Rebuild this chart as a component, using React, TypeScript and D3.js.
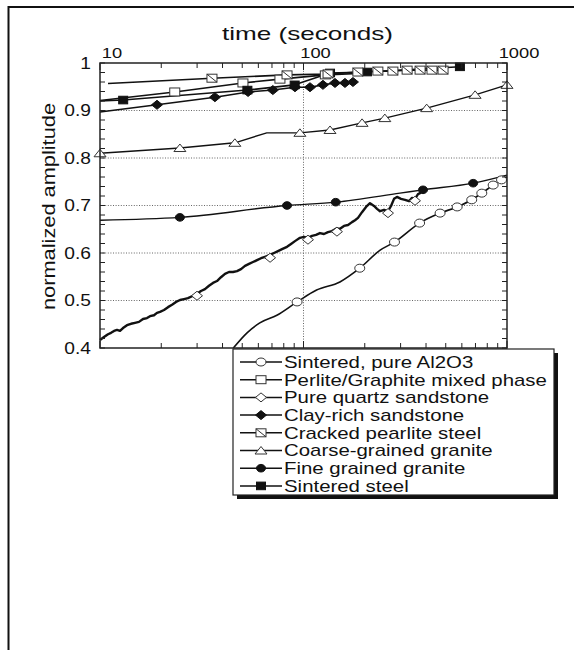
import React from 'react';
import * as d3 from 'd3';

// ---------- axes / ticks ----------
const xMajorTicks = [10, 100, 1000];
const xTickLabels = ['10', '100', '1000'];
const xMinorTicks = [20, 30, 40, 50, 60, 70, 80, 90, 200, 300, 400, 500, 600, 700, 800, 900];
const yMajorTicks = [0.4, 0.5, 0.6, 0.7, 0.8, 0.9, 1];
const yTickLabels = ['0.4', '0.5', '0.6', '0.7', '0.8', '0.9', '1'];
const yGridValues = [0.5, 0.6, 0.7, 0.8, 0.9];
const xGridValues = [100];

const legendLabels = [
  'Sintered, pure Al2O3',
  'Perlite/Graphite mixed phase',
  'Pure quartz sandstone',
  'Clay-rich sandstone',
  'Cracked pearlite steel',
  'Coarse-grained granite',
  'Fine grained granite',
  'Sintered steel',
];
const legendMarkers = ['circle', 'square', 'diamond', 'diamondFilled', 'squareCross', 'triangle', 'circleFilled', 'squareFilled'];

// ---------- series (time in seconds, normalized amplitude) ----------
const aluminaT = [45.2, 52.8, 61, 74, 93, 116, 151, 189, 238, 280, 372, 469, 569, 671, 752, 855, 940, 1000];
const aluminaV = [0.40, 0.432, 0.453, 0.469, 0.497, 0.522, 0.539, 0.568, 0.606, 0.623, 0.663, 0.684, 0.697, 0.712, 0.726, 0.743, 0.754, 0.76];
const aluminaMarkT = [93, 189, 280, 372, 469, 569, 671, 752, 855, 940];
const aluminaMarkV = [0.497, 0.568, 0.623, 0.663, 0.684, 0.697, 0.712, 0.726, 0.743, 0.754];

const perliteT = [10, 23.3, 50.4, 76.6, 128, 212];
const perliteV = [0.921, 0.939, 0.958, 0.966, 0.975, 0.979];
const perliteMarkT = [23.3, 50.4, 76.6, 128];
const perliteMarkV = [0.939, 0.958, 0.966, 0.975];

const quartzT = [10, 10.46, 10.95, 11.33, 11.72, 12.12, 12.54, 12.97, 13.57, 14.2, 14.86, 15.54, 16.27, 17.02, 17.61, 18.42, 19.06, 19.72, 20.63, 21.59, 22.59, 23.64, 24.73, 25.87, 27.06, 28.32, 29.97, 31.35, 32.8, 34.32, 35.91, 37.57, 39.31, 41.13, 43.04, 45.04, 47.12, 49.31, 51.59, 53.98, 56.47, 59.1, 61.84, 64.7, 68.5, 71.61, 74.93, 78.41, 82.97, 86.82, 90.81, 96.1, 100.6, 105.2, 110.1, 115.2, 120.5, 126.1, 131.9, 138, 144.4, 151.1, 158.1, 165.5, 173.1, 179.1, 185.3, 193.9, 202.9, 212.2, 222.1, 229.8, 237.7, 248.7, 260.2, 269.2, 278.5, 288.1, 301.4, 315.4, 330, 341.4, 353.1, 365.3, 373.7, 386.6];
const quartzV = [0.417, 0.423, 0.429, 0.432, 0.436, 0.438, 0.436, 0.442, 0.448, 0.451, 0.453, 0.455, 0.461, 0.463, 0.467, 0.469, 0.474, 0.476, 0.480, 0.486, 0.491, 0.497, 0.501, 0.503, 0.505, 0.509, 0.514, 0.520, 0.524, 0.531, 0.537, 0.541, 0.549, 0.556, 0.560, 0.560, 0.562, 0.566, 0.573, 0.577, 0.581, 0.585, 0.589, 0.592, 0.596, 0.600, 0.604, 0.608, 0.613, 0.619, 0.625, 0.632, 0.634, 0.632, 0.636, 0.638, 0.642, 0.640, 0.644, 0.646, 0.651, 0.651, 0.657, 0.659, 0.665, 0.669, 0.674, 0.686, 0.697, 0.705, 0.699, 0.693, 0.688, 0.691, 0.688, 0.699, 0.714, 0.718, 0.714, 0.712, 0.709, 0.716, 0.714, 0.724, 0.726, 0.733];
const quartzMarkT = [29.97, 68.5, 105.2, 146, 260.2, 353.1];
const quartzMarkV = [0.51, 0.59, 0.628, 0.645, 0.684, 0.71];

const clayT = [10, 19.06, 36.7, 53.4, 70.7, 90.8, 107.6, 124.6, 142.8, 159.9, 175];
const clayV = [0.897, 0.912, 0.928, 0.939, 0.943, 0.949, 0.949, 0.954, 0.958, 0.958, 0.960];
const clayMarkT = [19.06, 36.7, 53.4, 70.7, 90.8, 107.6, 124.6, 142.8, 159.9, 175];
const clayMarkV = [0.912, 0.928, 0.939, 0.943, 0.949, 0.949, 0.954, 0.958, 0.958, 0.960];

const crackedT = [10.95, 35.5, 83, 132, 185, 232, 275, 323, 374, 428, 485];
const crackedV = [0.957, 0.968, 0.975, 0.977, 0.981, 0.983, 0.983, 0.985, 0.985, 0.985, 0.985];
const crackedMarkT = [35.5, 83, 132, 185, 232, 275, 323, 374, 428, 485];
const crackedMarkV = [0.968, 0.975, 0.977, 0.981, 0.983, 0.983, 0.985, 0.985, 0.985, 0.985];

const coarseT = [10, 24.7, 46, 66, 96, 135, 194, 251, 403, 697, 1000];
const coarseV = [0.81, 0.821, 0.832, 0.853, 0.853, 0.859, 0.874, 0.884, 0.905, 0.933, 0.954];
const coarseMarkT = [10, 24.7, 46, 96, 135, 194, 251, 403, 697, 1000];
const coarseMarkV = [0.81, 0.821, 0.832, 0.853, 0.859, 0.874, 0.884, 0.905, 0.933, 0.954];

const fineT = [10, 24.7, 83, 144, 298, 386.6, 682, 1000];
const fineV = [0.669, 0.675, 0.70, 0.707, 0.726, 0.733, 0.747, 0.764];
const fineMarkT = [24.7, 83, 144, 386.6, 682];
const fineMarkV = [0.675, 0.70, 0.707, 0.733, 0.747];

const steelT = [10, 13, 53, 90.5, 135, 205, 587];
const steelV = [0.92, 0.922, 0.943, 0.954, 0.979, 0.981, 0.992];
const steelMarkT = [13, 53, 90.5, 135, 205, 587];
const steelMarkV = [0.922, 0.943, 0.954, 0.979, 0.981, 0.992];

// ---------- layout ----------
const W = 574;
const H = 650;
const X0 = 100, X1 = 507, Y0 = 63, Y1 = 348;
const FONT = "'Liberation Sans', Arial, Helvetica, sans-serif";
const INK = '#111';

const x = d3.scaleLog().domain([10, 1000]).range([X0, X1]);
const y = d3.scaleLinear().domain([0.4, 1]).range([Y1, Y0]);

function Marker({ kind, cx, cy }: { kind: string; cx: number; cy: number }) {
  const open = { fill: '#fff', stroke: '#333', strokeWidth: 1 };
  const filled = { fill: '#111', stroke: '#111', strokeWidth: 1 };
  switch (kind) {
    case 'circle':
      return <ellipse cx={cx} cy={cy} rx={5} ry={4} {...open} />;
    case 'circleFilled':
      return <ellipse cx={cx} cy={cy} rx={4.5} ry={3.8} {...filled} />;
    case 'square':
      return <rect x={cx - 5} y={cy - 4} width={10} height={8} {...open} />;
    case 'squareFilled':
      return <rect x={cx - 4.5} y={cy - 3.8} width={9} height={7.6} {...filled} />;
    case 'squareCross':
      return (
        <g>
          <rect x={cx - 5} y={cy - 4} width={10} height={8} {...open} />
          <line x1={cx - 5} y1={cy - 4} x2={cx + 5} y2={cy + 4} stroke="#333" strokeWidth={1} />
        </g>
      );
    case 'diamond':
      return <polygon points={`${cx - 5.5},${cy} ${cx},${cy - 4.5} ${cx + 5.5},${cy} ${cx},${cy + 4.5}`} {...open} />;
    case 'diamondFilled':
      return <polygon points={`${cx - 5.5},${cy} ${cx},${cy - 4.5} ${cx + 5.5},${cy} ${cx},${cy + 4.5}`} {...filled} />;
    case 'triangle':
      return <polygon points={`${cx - 6},${cy + 3.5} ${cx},${cy - 4} ${cx + 6},${cy + 3.5}`} {...open} />;
    default:
      return null;
  }
}

function SText({ x: tx, y: ty, sx = 1, anchor = 'start', size, children }: any) {
  return (
    <text
      transform={`translate(${tx},${ty}) scale(${sx},1)`}
      textAnchor={anchor}
      fontSize={size}
      fontFamily={FONT}
      fill={INK}
    >
      {children}
    </text>
  );
}

const series = [
  { t: fineT, v: fineV, mt: fineMarkT, mv: fineMarkV, kind: 'circleFilled', w: 1.4, curve: d3.curveMonotoneX },
  { t: coarseT, v: coarseV, mt: coarseMarkT, mv: coarseMarkV, kind: 'triangle', w: 1.4, curve: d3.curveLinear },
  { t: quartzT, v: quartzV, mt: quartzMarkT, mv: quartzMarkV, kind: 'diamond', w: 2.4, curve: d3.curveLinear },
  { t: aluminaT, v: aluminaV, mt: aluminaMarkT, mv: aluminaMarkV, kind: 'circle', w: 1.6, curve: d3.curveMonotoneX },
  { t: clayT, v: clayV, mt: clayMarkT, mv: clayMarkV, kind: 'diamondFilled', w: 1.6, curve: d3.curveLinear },
  { t: perliteT, v: perliteV, mt: perliteMarkT, mv: perliteMarkV, kind: 'square', w: 1.6, curve: d3.curveLinear },
  { t: steelT, v: steelV, mt: steelMarkT, mv: steelMarkV, kind: 'squareFilled', w: 1.6, curve: d3.curveLinear },
  { t: crackedT, v: crackedV, mt: crackedMarkT, mv: crackedMarkV, kind: 'squareCross', w: 1.6, curve: d3.curveLinear },
];

export default function App() {
  const yMinor = d3.range(0.4, 1.0001, 0.02);

  const legendX = 233, legendY = 349, legendW = 321, legendH = 146;
  const rowY0 = 362, rowDy = 17.7;

  return (
    <svg
      width={W}
      height={H}
      viewBox={`0 0 ${W} ${H}`}
      style={{ position: 'absolute', left: 0, top: 0, background: '#fff' }}
    >
      <rect x={0} y={0} width={W} height={H} fill="#fff" />
      {/* outer frame (top and left) */}
      <line x1={8} y1={7} x2={W} y2={7} stroke="#111" strokeWidth={2} />
      <line x1={8.5} y1={6} x2={8.5} y2={H} stroke="#111" strokeWidth={2} />

      {/* grid */}
      {yGridValues.map((v) => (
        <line key={'gy' + v} x1={X0} x2={X1} y1={y(v)} y2={y(v)} stroke="#555" strokeWidth={0.9} strokeDasharray="1,1.6" />
      ))}
      {xGridValues.map((t) => (
        <line key={'gx' + t} x1={x(t)} x2={x(t)} y1={Y0} y2={Y1} stroke="#555" strokeWidth={0.9} strokeDasharray="1,1.6" />
      ))}

      {/* series lines */}
      {series.map((s, i) => {
        const pts = s.t.map((t, j) => [x(t), y(s.v[j])] as [number, number]);
        const path = d3.line().curve(s.curve)(pts) || '';
        return <path key={'l' + i} d={path} fill="none" stroke="#111" strokeWidth={s.w} strokeLinejoin="round" />;
      })}
      {/* series markers */}
      {series.map((s, i) => (
        <g key={'m' + i}>
          {s.mt.map((t, j) => (
            <Marker key={j} kind={s.kind} cx={x(t)} cy={y(s.mv[j])} />
          ))}
        </g>
      ))}

      {/* plot frame */}
      <rect x={X0} y={Y0} width={X1 - X0} height={Y1 - Y0} fill="none" stroke="#222" strokeWidth={1.5} />

      {/* x ticks (top and bottom, inward) */}
      {xMinorTicks.map((t) => (
        <g key={'xt' + t}>
          <line x1={x(t)} x2={x(t)} y1={Y1} y2={Y1 - 5} stroke="#222" strokeWidth={1} />
          <line x1={x(t)} x2={x(t)} y1={Y0} y2={Y0 + 5} stroke="#222" strokeWidth={1} />
        </g>
      ))}
      {xMajorTicks.map((t) => (
        <g key={'xM' + t}>
          <line x1={x(t)} x2={x(t)} y1={Y1} y2={Y1 - 7} stroke="#222" strokeWidth={1} />
          <line x1={x(t)} x2={x(t)} y1={Y0} y2={Y0 + 7} stroke="#222" strokeWidth={1} />
        </g>
      ))}
      {/* y ticks (left and right, inward) */}
      {yMinor.map((v, i) => (
        <g key={'yt' + i}>
          <line x1={X0} x2={X0 + 5} y1={y(v)} y2={y(v)} stroke="#222" strokeWidth={1} />
          <line x1={X1} x2={X1 - 5} y1={y(v)} y2={y(v)} stroke="#222" strokeWidth={1} />
        </g>
      ))}

      {/* top tick labels */}
      {xMajorTicks.map((t, i) => (
        <SText key={'xl' + t} x={x(t) + 12} y={58} sx={1.22} anchor="middle" size={15}>
          {xTickLabels[i]}
        </SText>
      ))}
      {/* y tick labels */}
      {yMajorTicks.map((v, i) => (
        <SText key={'yl' + v} x={91} y={y(v) + 5.5} sx={1.2} anchor="end" size={16}>
          {yTickLabels[i]}
        </SText>
      ))}

      {/* axis titles */}
      <text x={222} y={40} fontSize={19} fontFamily={FONT} fill={INK} textLength={171} lengthAdjust="spacingAndGlyphs">
        time (seconds)
      </text>
      <text
        transform="translate(55,310) rotate(-90)"
        x={0}
        y={0}
        fontSize={19}
        fontFamily={FONT}
        fill={INK}
        textLength={207}
        lengthAdjust="spacingAndGlyphs"
      >
        normalized amplitude
      </text>

      {/* legend */}
      <rect x={legendX + 4} y={legendY + 4} width={legendW} height={legendH} fill="#111" />
      <rect x={legendX} y={legendY} width={legendW} height={legendH} fill="#fff" stroke="#222" strokeWidth={1.2} />
      {legendLabels.map((lab, i) => {
        const cy = rowY0 + i * rowDy;
        return (
          <g key={'lg' + i}>
            <line x1={240} x2={282} y1={cy} y2={cy} stroke="#111" strokeWidth={1.5} />
            <Marker kind={legendMarkers[i]} cx={261} cy={cy} />
            <SText x={284} y={cy + 5.8} sx={1.3} size={15.7}>
              {lab}
            </SText>
          </g>
        );
      })}
    </svg>
  );
}
